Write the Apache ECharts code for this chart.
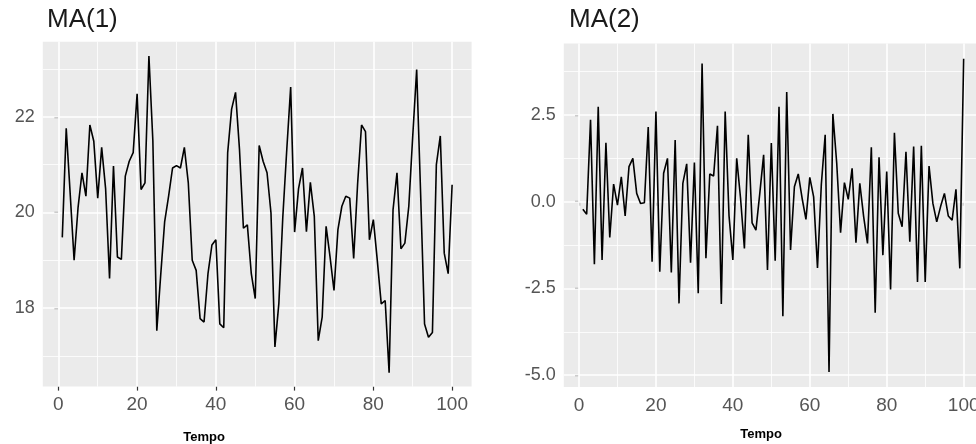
<!DOCTYPE html>
<html lang="pt" style="height: 100%">
<head>
  <meta charset="utf-8">
</head>
<body style="height: 100%; margin: 0; background: #fff">
  <div id="container" style="width: 976px; height: 444px"></div>

  <script type="text/javascript" src="https://cdn.jsdelivr.net/npm/echarts@6/dist/echarts.min.js"></script>
  <script type="text/javascript">
    // valores (t = 1..100)
    var ma1 = [
      19.48, 21.76, 20.4, 19.0, 20.1, 20.83, 20.34, 21.83, 21.49, 20.30,
      21.36, 20.5, 18.62, 20.97, 19.07, 19.02, 20.76, 21.07, 21.25, 22.48,
      20.48, 20.62, 23.27, 21.5, 17.53, 18.7, 19.81, 20.34, 20.93, 20.98,
      20.93, 21.36, 20.62, 19.0, 18.79, 17.78, 17.71, 18.72, 19.32, 19.43,
      17.67, 17.59, 21.25, 22.16, 22.51, 21.32, 19.67, 19.74, 18.72, 18.2,
      21.4, 21.07, 20.83, 19.99, 17.19, 18.1, 19.9, 21.3, 22.62, 19.59,
      20.5, 20.93, 19.6, 20.63, 19.92, 17.32, 17.81, 19.71, 19.07, 18.37,
      19.64, 20.13, 20.34, 20.3, 19.04, 20.6, 21.83, 21.69, 19.43, 19.85,
      19.0, 18.09, 18.16, 16.65, 20.06, 20.83, 19.24, 19.36, 20.13, 21.6,
      22.99, 20.4, 17.67, 17.39, 17.49, 21.0, 21.6, 19.15, 18.72, 20.58
    ];
    var ma2 = [
      -0.22, -0.36, 2.36, -1.80, 2.74, -1.68, 1.70, -1.03, 0.51, -0.10,
      0.72, -0.41, 1.01, 1.25, 0.24, -0.05, -0.03, 2.15, -1.73, 2.60,
      -2.02, 0.82, 1.25, -2.04, 1.78, -2.93, 0.53, 1.09, -1.76, 1.13,
      -2.64, 3.98, -1.63, 0.80, 0.74, 2.19, -2.95, 2.60, -0.4, -1.68,
      1.25, 0.1, -1.35, 1.93, -0.61, -0.82, 0.24, 1.35, -1.97, 1.69,
      -1.70, 2.74, -3.30, 3.16, -1.39, 0.43, 0.80, 0.1, -0.51, 0.70,
      0.14, -1.91, 0.5, 1.93, -4.91, 2.53, 1.11, -0.89, 0.55, 0.07,
      0.96, -1.18, 0.53, -0.43, -1.20, 1.57, -3.20, 1.28, -1.54, 0.87,
      -2.53, 1.99, -0.33, -0.72, 1.44, -1.15, 1.59, -2.31, 1.61, -2.31,
      1.03, -0.05, -0.58, -0.14, 0.24, -0.41, -0.53, 0.36, -1.92, 4.12
    ];

    // ticks e linhas de grade
    var xTicks = [0, 20, 40, 60, 80, 100];
    var xMinor = [10, 30, 50, 70, 90];
    var y1Ticks = [18, 20, 22];
    var y1Minor = [17, 19, 21, 23];
    var y2Ticks = [-5, -2.5, 0, 2.5];
    var y2Minor = [-3.75, -1.25, 1.25, 3.75];

    var dom = document.getElementById('container');
    var myChart = echarts.init(dom, null, { renderer: 'canvas' });

    var font = 'Liberation Sans, Arial, sans-serif';

    function gridLines(xs, xm, ys, ym) {
      var d = [];
      xm.forEach(function (v) { d.push({ xAxis: v, lineStyle: { width: 0.8 } }); });
      ym.forEach(function (v) { d.push({ yAxis: v, lineStyle: { width: 0.8 } }); });
      xs.forEach(function (v) { d.push({ xAxis: v, lineStyle: { width: 1.6 } }); });
      ys.forEach(function (v) { d.push({ yAxis: v, lineStyle: { width: 1.6 } }); });
      return {
        silent: true,
        z: 1,
        symbol: 'none',
        animation: false,
        label: { show: false },
        lineStyle: { color: '#ffffff', type: 'solid' },
        data: d
      };
    }

    function xAxisOpt(idx) {
      return {
        type: 'value',
        gridIndex: idx,
        min: -3.95,
        max: 104.95,
        splitLine: { show: false },
        axisLine: { show: false },
        axisTick: { show: true, customValues: xTicks, length: 4, lineStyle: { color: '#333', width: 1.2 } },
        axisLabel: { customValues: xTicks, margin: 9, fontSize: 19, color: '#555', fontFamily: font }
      };
    }

    function yAxisOpt(idx, min, max, ticks, fmt) {
      return {
        type: 'value',
        gridIndex: idx,
        min: min,
        max: max,
        splitLine: { show: false },
        axisLine: { show: false },
        axisTick: { show: true, customValues: ticks, length: 4, lineStyle: { color: '#333', width: 1.2 } },
        axisLabel: { customValues: ticks, margin: 8, fontSize: 18, color: '#555', fontFamily: font, formatter: fmt }
      };
    }

    var option = {
      animation: false,
      backgroundColor: '#ffffff',
      title: [
        { text: 'MA(1)', left: 42, top: 2, textStyle: { fontSize: 26, fontWeight: 'normal', color: '#1a1a1a', fontFamily: font } },
        { text: 'MA(2)', left: 564, top: 2, textStyle: { fontSize: 26, fontWeight: 'normal', color: '#1a1a1a', fontFamily: font } }
      ],
      grid: [
        { left: 42.8, top: 41.7, width: 428.8, height: 344.9, show: true, backgroundColor: '#ebebeb', borderWidth: 0, outerBoundsMode: 'none' },
        { left: 563.8, top: 43.5, width: 418.9, height: 343.5, show: true, backgroundColor: '#ebebeb', borderWidth: 0, outerBoundsMode: 'none' }
      ],
      xAxis: [xAxisOpt(0), xAxisOpt(1)],
      yAxis: [
        yAxisOpt(0, 16.36, 23.57, y1Ticks, function (v) { return String(v); }),
        yAxisOpt(1, -5.34, 4.56, y2Ticks, function (v) { return v.toFixed(1); })
      ],
      graphic: [
        { type: 'text', x: 204, y: 437, style: { text: 'Tempo', font: 'bold 13px ' + font, fill: '#000', textAlign: 'center', textVerticalAlign: 'middle' } },
        { type: 'text', x: 761, y: 434, style: { text: 'Tempo', font: 'bold 13px ' + font, fill: '#000', textAlign: 'center', textVerticalAlign: 'middle' } }
      ],
      series: [
        {
          type: 'line',
          xAxisIndex: 0,
          yAxisIndex: 0,
          z: 3,
          showSymbol: false,
          lineStyle: { color: '#000', width: 1.6 },
          data: ma1.map(function (v, i) { return [i + 1, v]; }),
          markLine: gridLines(xTicks, xMinor, y1Ticks, y1Minor)
        },
        {
          type: 'line',
          xAxisIndex: 1,
          yAxisIndex: 1,
          z: 3,
          showSymbol: false,
          lineStyle: { color: '#000', width: 1.6 },
          data: ma2.map(function (v, i) { return [i + 1, v]; }),
          markLine: gridLines(xTicks, xMinor, y2Ticks, y2Minor)
        }
      ]
    };

    myChart.setOption(option);
    window.addEventListener('resize', myChart.resize);
  </script>
</body>
</html>
